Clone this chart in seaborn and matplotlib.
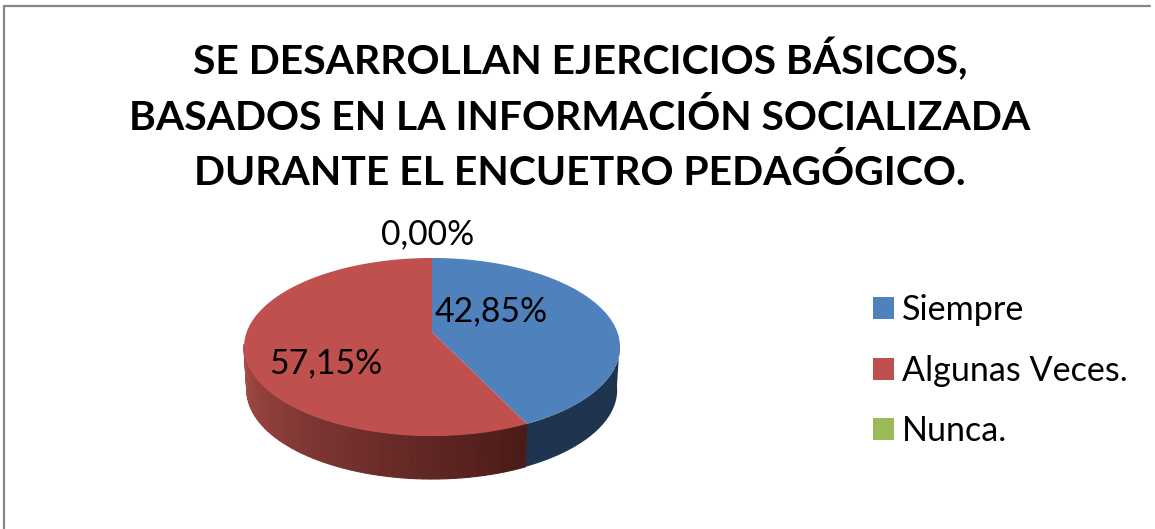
import numpy as np
import matplotlib
matplotlib.use("Agg")
import matplotlib.pyplot as plt
import seaborn as sns
from matplotlib.patches import Patch

categories = ["Siempre", "Algunas Veces.", "Nunca."]
values = [42.85, 57.15, 0.0]
pie_labels = ["42,85%", "57,15%", "0,00%"]
title_text = "SE DESARROLLAN EJERCICIOS BÁSICOS,\nBASADOS EN LA INFORMACIÓN SOCIALIZADA\nDURANTE EL ENCUETRO PEDAGÓGICO."

sns.set_theme(style="white")
plt.rcParams["font.family"] = ["Lato", "DejaVu Sans"]
colors = sns.color_palette(["#4F81BD", "#C0504D", "#9BBB59"])

# pie geometry in pixels, perspective tilt makes the front half bigger
cx, cy = 432, 332
b, a, p = 185.3, 86.5, 0.1685
depth = 43


def project(t, x_scale=1.0, dy=0):
    u, v = np.sin(t), np.cos(t)
    w = 1 / (1 + p * v)
    return cx + x_scale * b * u * w, cy - a * v * w + dy


fig = plt.figure(figsize=(11.55, 5.29), dpi=100)
ax = fig.add_axes([0, 0, 1, 1])
ax.set_xlim(0, 1155)
ax.set_ylim(529, 0)
ax.axis("off")

# chart border
ax.plot([4, 4, 1150], [529, 6, 6], color="#868686", lw=1.6, solid_joinstyle="miter")

cum = np.cumsum([0] + values) / 100 * 2 * np.pi

# side wall: blue is flat, red is split in thin quads so it can shade
vis_start, vis_end = np.radians(97), np.radians(262)
blue_t = np.linspace(vis_start, cum[1], 80)
xa, ya = project(blue_t)
xb, yb = project(blue_t[::-1], 0.985, depth)
ax.fill(np.r_[xa, xb], np.r_[ya, yb], color="#1F344F", lw=0)

left_c = np.array(matplotlib.colors.to_rgb("#A84C48"))
right_c = np.array(matplotlib.colors.to_rgb("#4A1B18"))
steps = np.linspace(cum[1], vis_end, 55)
for t0, t1 in zip(steps[:-1], steps[1:]):
    xa, ya = project(np.array([t0, t1]))
    xb, yb = project(np.array([t1, t0]), 0.985, depth)
    f = (vis_end - t0) / (vis_end - cum[1])
    c = left_c + (right_c - left_c) * f
    ax.fill(np.r_[xa, xb], np.r_[ya, yb], color=c, lw=0.8)

# top face
for i in range(len(values)):
    if values[i] == 0:
        continue
    t = np.linspace(cum[i], cum[i + 1], 200)
    x, y = project(t)
    ax.fill(np.r_[cx, x], np.r_[cy, y], color=colors[i], lw=0)

label_pos = [(491.5, 311), (326, 363), (428, 234)]
for lab, pos in zip(pie_labels, label_pos):
    ax.text(pos[0], pos[1], lab, ha="center", va="center", fontsize=24.3, color="black")

ax.text(580, 115, title_text, ha="center", va="center", fontsize=29.4, fontweight="bold",
        color="black", linespacing=1.55)

handles = [Patch(facecolor=c, edgecolor="none") for c in colors]
ax.legend(handles, categories, loc="upper left", bbox_to_anchor=(873 / 1155, 1 - 294 / 529),
          frameon=False, fontsize=24.6, handlelength=0.615, handleheight=0.615,
          handletextpad=0.22, labelspacing=0.84, borderpad=0, borderaxespad=0,
          labelcolor="black")

fig.savefig("out.png", dpi=100)
